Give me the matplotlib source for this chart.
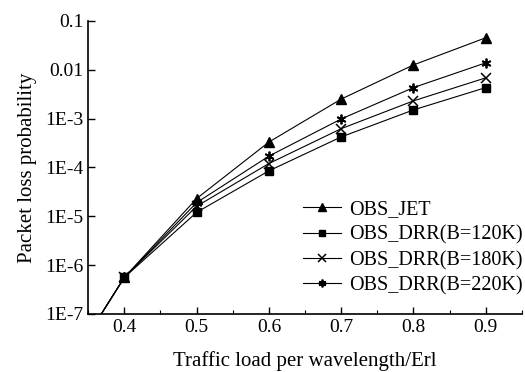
import matplotlib
matplotlib.use("Agg")
import matplotlib.pyplot as plt
from matplotlib.ticker import FixedLocator, MultipleLocator, NullLocator

x = [0.3, 0.4, 0.5, 0.6, 0.7, 0.8, 0.9]
jet = [2.5e-9, 5.6e-7, 2.3e-5, 3.3e-4, 2.5e-3, 1.25e-2, 4.5e-2]
drr120 = [2.5e-9, 5.6e-7, 1.2e-5, 8.5e-5, 4.2e-4, 1.5e-3, 4.3e-3]
drr180 = [2.5e-9, 5.6e-7, 1.6e-5, 1.2e-4, 6.2e-4, 2.3e-3, 6.8e-3]
drr220 = [2.5e-9, 5.6e-7, 1.9e-5, 1.7e-4, 9.8e-4, 4.3e-3, 1.38e-2]
labels = ["OBS_JET", "OBS_DRR(B=120K)", "OBS_DRR(B=180K)", "OBS_DRR(B=220K)"]
yticks = [1e-7, 1e-6, 1e-5, 1e-4, 1e-3, 1e-2, 1e-1]
yticklabels = ["1E-7", "1E-6", "1E-5", "1E-4", "1E-3", "0.01", "0.1"]
xticks = [0.4, 0.5, 0.6, 0.7, 0.8, 0.9]

plt.rcParams['font.family'] = ['Liberation Serif', 'DejaVu Serif']
plt.rcParams['font.size'] = 14

fig = plt.figure(figsize=(5.25, 3.72), dpi=100)
ax = fig.add_axes([0.168, 0.156, 0.826, 0.788])

series = [jet, drr120, drr180, drr220]
markers = ['^', 's', 'x', (6, 2, 0)]
sizes = [7, 6, 7, 7]
mews = [1.0, 1.0, 1.1, 1.3]
for ys, m, ms, mew, lab in zip(series, markers, sizes, mews, labels):
    ax.plot(x, ys, color='black', lw=0.8, marker=m, markersize=ms,
            markerfacecolor='black', markeredgecolor='black',
            markeredgewidth=mew, label=lab)

ax.set_yscale('log')
ax.set_ylim(1e-7, 1e-1)
ax.set_xlim(0.35, 0.95)
ax.yaxis.set_major_locator(FixedLocator(yticks))
ax.set_yticklabels(yticklabels)
ax.yaxis.set_minor_locator(NullLocator())
ax.set_xticks(xticks)
ax.set_xticklabels([f"{v:.1f}" for v in xticks])
ax.xaxis.set_minor_locator(MultipleLocator(0.05))

ax.spines['top'].set_visible(False)
ax.spines['right'].set_visible(False)
for s in ['left', 'bottom']:
    ax.spines[s].set_linewidth(1.2)
ax.tick_params(which='major', direction='in', length=5, width=1.0, labelsize=14)
ax.tick_params(which='minor', direction='in', length=3, width=0.8)

ax.set_xlabel("Traffic load per wavelength/Erl", fontsize=15, labelpad=11)
ax.set_ylabel("Packet loss probability", fontsize=15, labelpad=6)

leg = ax.legend(loc='upper right', bbox_to_anchor=(1.02, 0.415), frameon=False,
                handlelength=1.9, handletextpad=0.4, labelspacing=0.3,
                borderaxespad=0, fontsize=14.5, markerscale=0.8)

fig.savefig("out.png", dpi=100)
